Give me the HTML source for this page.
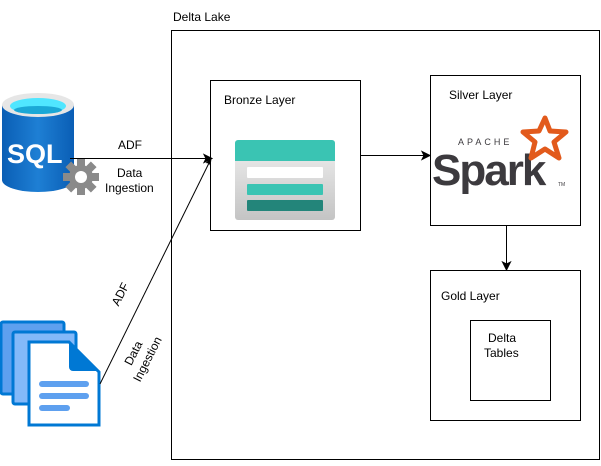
<!DOCTYPE html>
<html><head><style>
body{margin:0;background:#fff;}
svg text{font-family:"Liberation Sans",sans-serif;font-size:12px;fill:#000;}
</style></head><body>
<svg width="601" height="461" viewBox="0 0 601 461" xmlns="http://www.w3.org/2000/svg">
<defs>
<linearGradient id="g1" x1="0" y1="0" x2="0" y2="1"><stop offset="0" stop-color="#f0f0f0"/><stop offset="1" stop-color="#c4c4c4"/></linearGradient>
<linearGradient id="sq" x1="0" y1="0" x2="1" y2="0"><stop offset="0" stop-color="#0a5eb5"/><stop offset="0.5" stop-color="#1e7fd4"/><stop offset="1" stop-color="#0a5eb5"/></linearGradient>
</defs>
<rect x="171.5" y="30.5" width="428" height="429" fill="none" stroke="#000"/>
<text x="173" y="21">Delta Lake</text>
<rect x="210.5" y="80.5" width="150" height="150" fill="#fff" stroke="#000"/>
<text x="224" y="104">Bronze Layer</text>
<rect x="430.5" y="75.5" width="150" height="150" fill="#fff" stroke="#000"/>
<text x="449" y="99">Silver Layer</text>
<rect x="430.5" y="270.5" width="150" height="150" fill="#fff" stroke="#000"/>
<text x="441" y="300">Gold Layer</text>
<rect x="470.5" y="320.5" width="80" height="80" fill="#fff" stroke="#000"/>
<text x="488" y="342">Delta</text>
<text x="484" y="357">Tables</text>
<!-- bronze icon -->
<rect x="235" y="140" width="100" height="80" rx="3" fill="url(#g1)"/>
<path d="M238 140h94a3 3 0 0 1 3 3v18h-100v-18a3 3 0 0 1 3-3z" fill="#3ac4b3"/>
<rect x="247" y="167" width="76" height="11" rx="1" fill="#fff"/>
<rect x="247" y="184" width="76" height="11" rx="1" fill="#3ac4b3"/>
<rect x="247" y="200" width="76" height="11" rx="1" fill="#23857a"/>
<!-- spark -->
<text x="458" y="145" style="font-size:9px;letter-spacing:3px;fill:#3c3a3e">APACHE</text>
<text x="432" y="185" style="font-size:44px;font-weight:bold;fill:#3c3a3e;letter-spacing:-2px">Spark</text>
<path d="M545 118 L550 131 L566 132 L554 142 L559 158 L545 149 L531 158 L535 142 L523 132 L539 131 Z" fill="none" stroke="#e25a1c" stroke-width="5" stroke-linejoin="round"/>
<text x="558" y="186" style="font-size:5px;fill:#3c3a3e">TM</text>
<!-- SQL -->
<path d="M2 105 v75 a36 12 0 0 0 72 0 v-75 z" fill="url(#sq)"/>
<ellipse cx="38" cy="105" rx="36" ry="12" fill="#e6e6e6"/>
<ellipse cx="38" cy="106" rx="28" ry="8" fill="#50e6ff"/>
<ellipse cx="38" cy="110" rx="24" ry="4" fill="#1ba8d6"/>
<text x="7" y="163" style="font-size:27px;font-weight:bold;fill:#fff">SQL</text>
<g transform="translate(81,177)">
<circle r="12" fill="#8a8a8a"/>
<g fill="#8a8a8a"><rect x="-4" y="-18" width="8" height="36"/><rect x="-18" y="-4" width="36" height="8"/><rect x="-4" y="-18" width="8" height="36" transform="rotate(45)"/><rect x="-4" y="-18" width="8" height="36" transform="rotate(-45)"/></g>
<circle r="6" fill="#fff"/>
</g>
<!-- docs -->
<rect x="1" y="322" width="63" height="72" rx="2" fill="#5ea0ef" stroke="#0078d4" stroke-width="3"/>
<rect x="13" y="332" width="63" height="72" rx="2" fill="#83b9f9" stroke="#0078d4" stroke-width="3"/>
<path d="M29 342 h40 l30 30 v53 h-70 z" fill="#fff" stroke="#0078d4" stroke-width="3"/>
<path d="M69 342 v25 a4 4 0 0 0 4 4 h26 z" fill="#0078d4"/>
<rect x="39" y="381" width="50" height="6" rx="3" fill="#5ea0ef"/>
<rect x="39" y="393" width="50" height="6" rx="3" fill="#5ea0ef"/>
<rect x="39" y="405" width="31" height="6" rx="3" fill="#5ea0ef"/>
<!-- connectors -->
<line x1="70" y1="158.5" x2="206" y2="158.5" stroke="#000"/>
<path d="M212 158.5 l-8 -4 l2 4 l-2 4 z" fill="#000" stroke="#000"/>
<line x1="100" y1="384" x2="209" y2="163" stroke="#000"/>
<path d="M211.5 158 l-1 8.5 l-1.5 -3 l-3.5 -0.5 z" fill="#000"/>
<text x="118" y="149">ADF</text>
<text x="117" y="177">Data</text>
<text x="105" y="192">Ingestion</text>
<g text-anchor="middle">
<text transform="translate(124,296) rotate(-63)">ADF</text>
<text transform="translate(137,355) rotate(-63)">Data</text>
<text transform="translate(151,361) rotate(-63)">Ingestion</text>
</g>
<line x1="360" y1="155.5" x2="424" y2="155.5" stroke="#000"/>
<path d="M430 155.5 l-8 -4 l2 4 l-2 4 z" fill="#000" stroke="#000"/>
<line x1="506.5" y1="225" x2="506.5" y2="264" stroke="#000"/>
<path d="M506.5 270 l-4 -8 l4 2 l4 -2 z" fill="#000" stroke="#000"/>
</svg>
</body></html>
